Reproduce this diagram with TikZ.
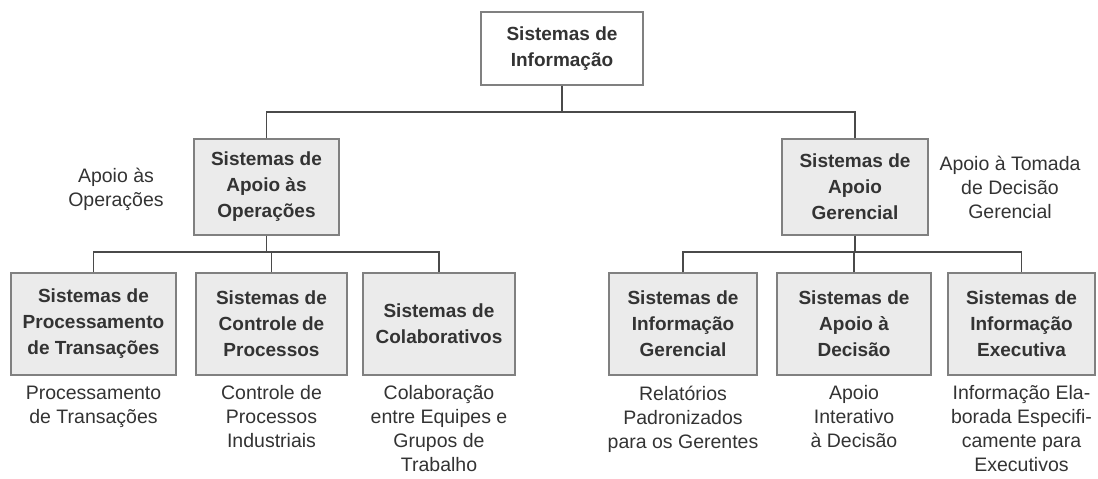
\documentclass[tikz,border=0pt]{standalone}
\usepackage{fontspec}
\setmainfont{Liberation Sans}
\usetikzlibrary{positioning}
\definecolor{textgray}{HTML}{333333}
\definecolor{boxline}{HTML}{808080}
\definecolor{boxfill}{HTML}{EBEBEB}
\definecolor{wire}{HTML}{4A4A4A}
\begin{document}
\begin{tikzpicture}[x=1pt,y=-1pt,
  sysbox/.style={draw=boxline,line width=1.2pt,fill=boxfill,text=textgray,
    align=center,inner sep=0pt,font=\fontsize{19}{26}\selectfont\bfseries},
  note/.style={text=textgray,align=center,inner sep=0pt,
    font=\fontsize{19.5}{24}\selectfont},
  wirestyle/.style={draw=wire,line width=1.1pt}]
\useasboundingbox (0,0) rectangle (1098,479);

\node[sysbox,fill=white,minimum width=162pt,minimum height=73pt] (top) at (562,48.5) {Sistemas de\\Informação};

\node[sysbox,minimum width=145pt,minimum height=96pt] (ops) at (266.5,187) {Sistemas de\\Apoio às\\Operações};
\node[sysbox,minimum width=146pt,minimum height=96pt] (ger) at (855,187) {Sistemas de\\Apoio\\Gerencial};

\node[note] (opsnote) at (116,189) {Apoio às\\Operações};
\node[note] (gernote) at (1010,187) {Apoio à Tomada\\de Decisão\\Gerencial};

% linha de baixo
\node[sysbox,minimum width=165pt,minimum height=102pt] (spt) at (93.5,324) {Sistemas de\\Processamento\\de Transações};
\node[sysbox,minimum width=151pt,minimum height=102pt] (scp) at (271.5,324) {Sistemas de\\Controle de\\Processos};
\node[sysbox,minimum width=152pt,minimum height=102pt] (sc) at (439,324) {Sistemas de\\Colaborativos};
\node[sysbox,minimum width=148pt,minimum height=102pt] (sig) at (683,324) {Sistemas de\\Informação\\Gerencial};
\node[sysbox,minimum width=154pt,minimum height=102pt] (sad) at (854,324) {Sistemas de\\Apoio à\\Decisão};
\node[sysbox,minimum width=147pt,minimum height=102pt] (sie) at (1021.5,324) {Sistemas de\\Informação\\Executiva};

\node[note,below=10pt of spt] (sptnote) {Processamento\\de Transações};
\node[note,below=10pt of scp] (scpnote) {Controle de\\Processos\\Industriais};
\node[note,below=10pt of sc] (scnote) {Colaboração\\entre Equipes e\\Grupos de\\Trabalho};
\node[note,below=10pt of sig] (signote) {Relatórios\\Padronizados\\para os Gerentes};
\node[note,below=10pt of sad] (sadnote) {Apoio\\Interativo\\à Decisão};
\node[note,below=10pt of sie] (sienote) {Informação Ela-\\borada Especifi-\\camente para\\Executivos};

% ligacoes
\coordinate (j0) at (562,112);
\coordinate (j1) at (266.5,252);
\coordinate (j2) at (855,252);
\draw[wirestyle] (top) -- (j0);
\draw[wirestyle] (ops.north) |- (j0) -| (ger.north);
\draw[wirestyle] (ops) -- (j1);
\draw[wirestyle] (spt.north) |- (j1) -| (sc.north);
\draw[wirestyle] (scp.north) -- (scp.north |- j1);
\draw[wirestyle] (ger) -- (j2);
\draw[wirestyle] (sig.north) |- (j2) -| (sie.north);
\draw[wirestyle] (sad.north) -- (sad.north |- j2);
\end{tikzpicture}
\end{document}
